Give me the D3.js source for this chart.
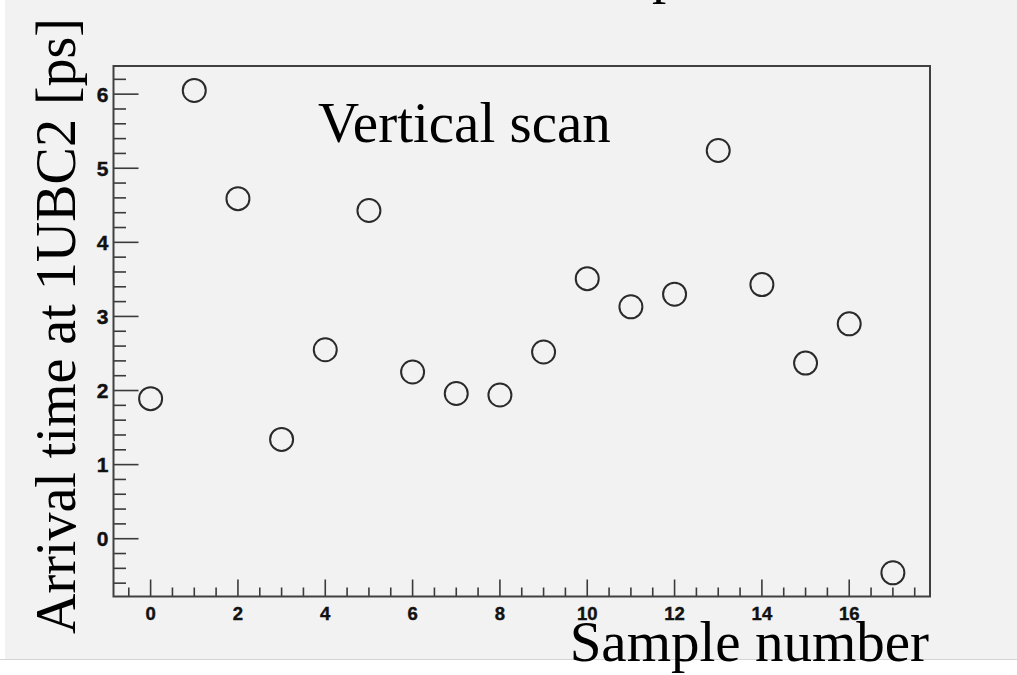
<!DOCTYPE html>
<html><head><meta charset="utf-8">
<script src="https://cdn.jsdelivr.net/npm/d3@7"></script>
<style>html,body{margin:0;padding:0;background:#fff;}svg{display:block;}</style>
</head><body>
<script>
const samples = [0,1,2,3,4,5,6,7,8,9,10,11,12,13,14,15,16,17];
const arrival = [1.89,6.05,4.59,1.34,2.55,4.43,2.25,1.96,1.94,2.52,3.51,3.13,3.30,5.24,3.43,2.37,2.90,-0.46];
const xTicks = [0,2,4,6,8,10,12,14,16];
const yTicks = [0,1,2,3,4,5,6];
const xTitle = "Sample number";
const yTitle = "Arrival time at 1UBC2 [ps]";
const label = "Vertical scan";
const titleFragment = "p";

const W = 1017, H = 675;
const svg = d3.select("body").append("svg").attr("width", W).attr("height", H);

// canvas
svg.append("rect").attr("x",5).attr("y",0).attr("width",W-5).attr("height",659).attr("fill","#f2f2f2");
svg.append("line").attr("x1",0).attr("x2",W).attr("y1",659.5).attr("y2",659.5).attr("stroke","#d4d4d4").attr("stroke-width",1);

const L = 113.5, R = 930, T = 66, B = 596.5;
const x = d3.scaleLinear().domain([-0.85, 17.85]).range([L, R]);
const y = d3.scaleLinear().domain([-0.78, 6.38]).range([B, T]);

const tickCol = "#3a3a3a";
const sans = "'Liberation Sans', Arial, Helvetica, sans-serif";
// x minor ticks
const xMinor = d3.range(-0.5, 17.86, 0.5).filter(v => Math.abs(v/2 - Math.round(v/2)) > 1e-6);
svg.append("g").selectAll("line").data(xMinor).join("line")
  .attr("x1", d => x(d)).attr("x2", d => x(d)).attr("y1", B).attr("y2", B-9)
  .attr("stroke", tickCol).attr("stroke-width", 1.6);
svg.append("g").selectAll("line").data(xTicks).join("line")
  .attr("x1", d => x(d)).attr("x2", d => x(d)).attr("y1", B).attr("y2", B-17)
  .attr("stroke", tickCol).attr("stroke-width", 1.6);
svg.append("g").selectAll("text").data(xTicks).join("text")
  .attr("x", d => x(d)).attr("y", 619.5).attr("text-anchor","middle")
  .attr("font-family", sans).attr("font-weight","bold")
  .attr("font-size", 18.5).attr("fill","#111").attr("stroke","#111").attr("stroke-width",0.4).text(d => d);

// y minor ticks
const yMinor = d3.range(-0.6, 6.3, 0.2).map(v => Math.round(v*10)/10).filter(v => Math.abs(v - Math.round(v)) > 1e-6);
svg.append("g").selectAll("line").data(yMinor).join("line")
  .attr("x1", L).attr("x2", L+12.5).attr("y1", d => y(d)).attr("y2", d => y(d))
  .attr("stroke", tickCol).attr("stroke-width", 1.6);
svg.append("g").selectAll("line").data(yTicks).join("line")
  .attr("x1", L).attr("x2", L+25).attr("y1", d => y(d)).attr("y2", d => y(d))
  .attr("stroke", tickCol).attr("stroke-width", 1.6);
svg.append("g").selectAll("text").data(yTicks).join("text")
  .attr("x", 108.5).attr("y", d => y(d) + 7.5).attr("text-anchor","end")
  .attr("font-family", sans).attr("font-weight","bold")
  .attr("font-size", 21).attr("fill","#111").attr("stroke","#111").attr("stroke-width",0.4).text(d => d);

// frame
svg.append("rect").attr("x", L).attr("y", T).attr("width", R-L).attr("height", B-T)
  .attr("fill","none").attr("stroke","#404040").attr("stroke-width",2);

// points
svg.append("g").selectAll("circle").data(samples).join("circle")
  .attr("cx", (d,i) => x(d)).attr("cy", (d,i) => y(arrival[i])).attr("r", 11.5)
  .attr("fill","none").attr("stroke","#2a2a2a").attr("stroke-width",2);

const serif = "'Liberation Serif', 'Times New Roman', serif";
svg.append("text").attr("x", 318).attr("y", 141.5).attr("font-family", serif)
  .attr("font-size", 57).attr("fill","#000").text(label);
svg.append("text").attr("x", 929).attr("y", 661).attr("text-anchor","end").attr("font-family", serif)
  .attr("font-size", 57).attr("fill","#000").text(xTitle);
svg.append("text").attr("transform","translate(75,18) rotate(-90)").attr("text-anchor","end")
  .attr("font-family", serif).attr("font-size", 56).attr("fill","#000").text(yTitle);
svg.append("text").attr("x", 652).attr("y", -8).attr("font-family", serif)
  .attr("font-size", 57).attr("fill","#000").text(titleFragment);
</script>
</body></html>
